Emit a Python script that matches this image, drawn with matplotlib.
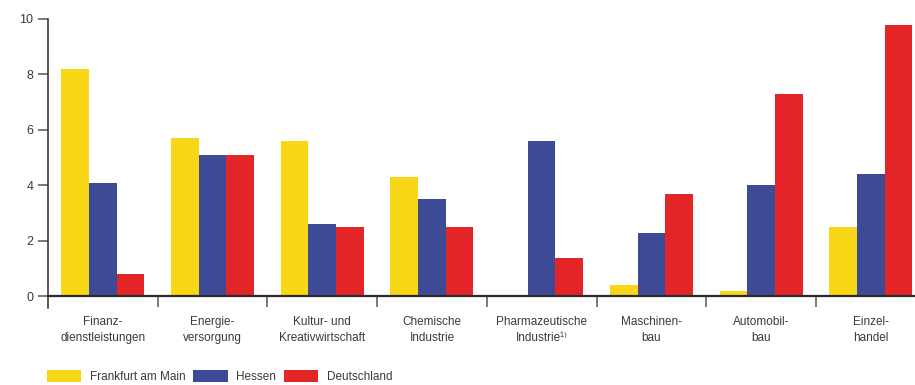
import matplotlib.pyplot as plt
import numpy as np

# Data
branchen = ['Finanz-\ndienstleistungen', 'Energie-\nversorgung', 'Kultur- und\nKreativwirtschaft',
            'Chemische\nIndustrie', 'Pharmazeutische\nIndustrie\u00b9\u207e', 'Maschinen-\nbau',
            'Automobil-\nbau', 'Einzel-\nhandel']
frankfurt = [8.2, 5.7, 5.6, 4.3, 0.0, 0.4, 0.2, 2.5]
hessen = [4.1, 5.1, 2.6, 3.5, 5.6, 2.3, 4.0, 4.4]
deutschland = [0.8, 5.1, 2.5, 2.5, 1.4, 3.7, 7.3, 9.8]
y_ticks = [0, 2, 4, 6, 8, 10]

plt.rcParams['font.family'] = ['Liberation Sans', 'DejaVu Sans']
text_col = '#3a3a3a'
axis_col = '#2a2a2a'

fig = plt.figure(figsize=(9.15, 3.85), dpi=100)
ax = fig.add_axes([48 / 915, 77 / 385, 877.6 / 915, 289 / 385])

x = np.arange(len(branchen))
w = 0.2525
ax.bar(x - w, frankfurt, w, color='#f7d716', label='Frankfurt am Main')
ax.bar(x, hessen, w, color='#3d4a96', label='Hessen')
ax.bar(x + w, deutschland, w, color='#e32528', label='Deutschland')

ax.set_xlim(-0.5, len(branchen) - 0.5)
ax.set_ylim(-0.42, 10)

# axes styling
for s in ['top', 'right']:
    ax.spines[s].set_visible(False)
ax.spines['bottom'].set_position(('data', 0))
ax.spines['bottom'].set_linewidth(1.6)
ax.spines['bottom'].set_color(axis_col)
ax.spines['left'].set_linewidth(1.1)
ax.spines['left'].set_color(axis_col)
ax.spines['left'].set_bounds(-0.42, 10)

ax.set_yticks(y_ticks)
ax.tick_params(axis='y', length=7.5, width=1.1, color='#555555', pad=3,
               labelsize=9, labelcolor=text_col)

# group boundaries as major ticks, names as minor tick labels
ax.set_xticks(np.arange(0.5, len(branchen) - 0.5, 1.0))
ax.set_xticklabels([])
ax.tick_params(axis='x', which='major', length=8, width=1.1, color='#555555')
ax.set_xticks(x, minor=True)
ax.set_xticklabels(branchen, minor=True, fontsize=8.5, color=text_col, linespacing=1.5)
ax.tick_params(axis='x', which='minor', length=0, pad=14)

fig.legend(loc='lower left', bbox_to_anchor=(47 / 915, 2 / 385), ncol=3, frameon=False,
           fontsize=8.5, handlelength=2.9, handleheight=1.3, handletextpad=0.75,
           columnspacing=0.65, borderpad=0, borderaxespad=0, labelcolor=text_col)

plt.savefig('out.png', dpi=100)
